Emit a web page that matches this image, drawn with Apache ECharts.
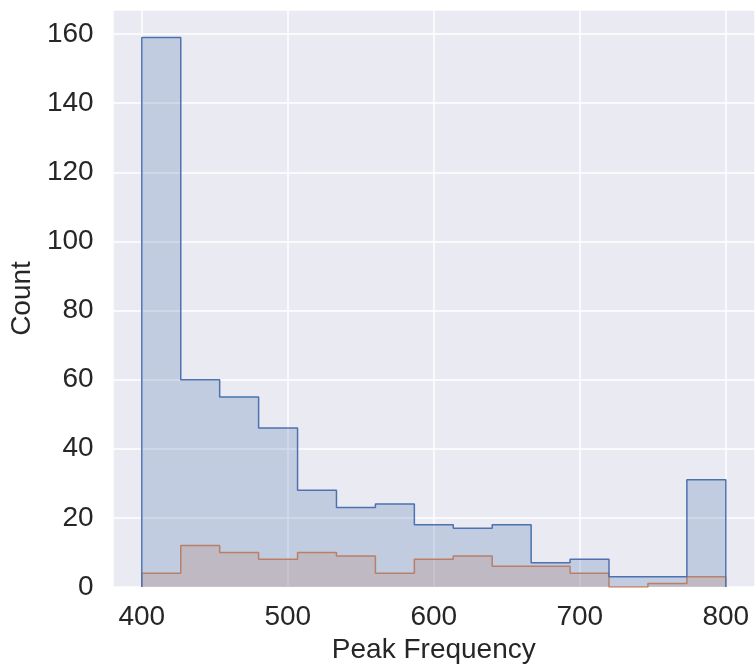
<!DOCTYPE html>
<html>
<head>
<meta charset="utf-8">
<script src="https://cdn.jsdelivr.net/npm/echarts@6/dist/echarts.min.js"></script>
<style>
html,body{margin:0;padding:0;background:#ffffff;}
#chart{width:755px;height:671px;}
</style>
</head>
<body>
<div id="chart"></div>
<script>
// Histogram bin edges (Peak Frequency) and counts per hue level
const binEdges = [400, 426.67, 453.33, 480, 506.67, 533.33, 560, 586.67, 613.33, 640, 666.67, 693.33, 720, 746.67, 773.33, 800];
const blueCounts = [159, 60, 55, 46, 28, 23, 24, 18, 17, 18, 7, 8, 3, 3, 31];
const orangeCounts = [4, 12, 10, 8, 10, 9, 4, 8, 9, 6, 6, 4, 0, 1, 3];
const xTickLabels = [400, 500, 600, 700, 800];
const yTickLabels = [0, 20, 40, 60, 80, 100, 120, 140, 160];

function stepPoints(edges, counts) {
  const pts = [[edges[0], 0]];
  for (let i = 0; i < counts.length; i++) pts.push([edges[i], counts[i]]);
  pts.push([edges[edges.length - 1], counts[counts.length - 1]]);
  pts.push([edges[edges.length - 1], 0]);
  return pts;
}

const xMin = xTickLabels[0], xMax = xTickLabels[xTickLabels.length - 1];
const xPad = (xMax - xMin) * 0.05;
const yTop = Math.max.apply(null, blueCounts) * 1.05;

const txt = '#262626';
const font = '"Liberation Sans", Arial, Helvetica, sans-serif';

const chart = echarts.init(document.getElementById('chart'), null, {renderer: 'canvas'});
chart.setOption({
  animation: false,
  backgroundColor: '#ffffff',
  grid: {
    left: 112, right: 0, top: 10, bottom: 84,
    show: true, backgroundColor: '#EAEAF2', borderWidth: 0
  },
  xAxis: {
    type: 'value',
    min: xMin - xPad, max: xMax + xPad,
    splitNumber: 5,
    axisLine: {show: false}, axisTick: {show: false},
    axisLabel: {
      color: txt, fontSize: 28, fontFamily: font, margin: 16,
      showMinLabel: false, showMaxLabel: false,
      formatter: function (v) { return xTickLabels.indexOf(v) >= 0 ? String(v) : ''; }
    },
    splitLine: {show: true, lineStyle: {color: '#ffffff', width: 1.5}},
    name: 'Peak Frequency', nameLocation: 'middle', nameGap: 46,
    nameTextStyle: {color: txt, fontSize: 28, fontFamily: font}
  },
  yAxis: {
    type: 'value',
    min: 0, max: yTop, interval: 20,
    axisLine: {show: false}, axisTick: {show: false},
    axisLabel: {
      color: txt, fontSize: 28, fontFamily: font, margin: 19,
      showMaxLabel: false,
      formatter: function (v) { return yTickLabels.indexOf(v) >= 0 ? String(v) : ''; }
    },
    splitLine: {show: true, lineStyle: {color: '#ffffff', width: 1.5}},
    name: 'Count', nameLocation: 'middle', nameGap: 75, nameRotate: 90,
    nameTextStyle: {color: txt, fontSize: 28, fontFamily: font}
  },
  series: [
    {
      name: 'orange', type: 'line', step: 'end', symbol: 'none',
      data: stepPoints(binEdges, orangeCounts),
      lineStyle: {color: '#DD8452', width: 1.5},
      areaStyle: {color: 'rgba(221,132,82,0.25)', opacity: 1},
      z: 2
    },
    {
      name: 'blue', type: 'line', step: 'end', symbol: 'none',
      data: stepPoints(binEdges, blueCounts),
      lineStyle: {color: '#4C72B0', width: 1.5},
      areaStyle: {color: 'rgba(76,114,176,0.25)', opacity: 1},
      z: 3
    }
  ]
});
</script>
</body>
</html>
